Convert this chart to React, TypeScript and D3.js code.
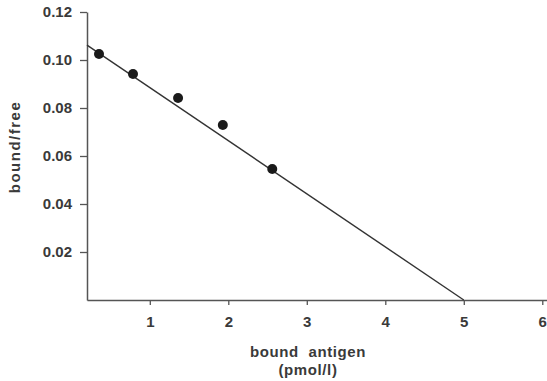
import React, { useEffect, useRef } from "react";
import * as d3 from "d3";

// measured points (bound antigen, bound/free)
const boundAntigen = [0.353, 0.786, 1.36, 1.93, 2.56];
const boundFree = [0.1025, 0.0942, 0.0842, 0.0729, 0.0546];

// fitted Scatchard line
const fitX = [0.2, 5];
const fitY = [0.1062, 0];

const xTicks = [1, 2, 3, 4, 5, 6];
const yTicks = [0.02, 0.04, 0.06, 0.08, 0.1, 0.12];

const W = 547;
const H = 381;
const FONT = "'Liberation Sans', Arial, sans-serif";

export default function App() {
  const ref = useRef<SVGSVGElement>(null);

  useEffect(() => {
    if (!ref.current) return;
    const svg = d3.select(ref.current);
    svg.selectAll("*").remove();

    const x = d3.scaleLinear().domain([0.2, 6.06]).range([87, 547]);
    const y = d3.scaleLinear().domain([0, 0.12]).range([300, 12]);

    // x axis
    const gx = svg
      .append("g")
      .attr("transform", `translate(0,${y(0)})`)
      .call(
        d3
          .axisBottom(x)
          .tickValues(xTicks)
          .tickSize(5)
          .tickPadding(11)
          .tickSizeOuter(0)
          .tickFormat(d3.format("d"))
      );

    // y axis
    const gy = svg
      .append("g")
      .attr("transform", `translate(${x(0.2)},0)`)
      .call(
        d3
          .axisLeft(y)
          .tickValues(yTicks)
          .tickSize(7)
          .tickPadding(8)
          .tickSizeOuter(0)
          .tickFormat(d3.format(".2f"))
      );

    [gx, gy].forEach((g) => {
      g.select(".domain").attr("stroke", "#555").attr("stroke-width", 1.5);
      g.selectAll(".tick line").attr("stroke", "#555").attr("stroke-width", 1.3);
      g.selectAll(".tick text")
        .attr("fill", "#3a3a3a")
        .style("font-family", FONT)
        .style("font-size", "15px")
        .style("font-weight", "bold");
    });

    // fitted line
    const line = d3
      .line<number>()
      .x((d) => x(d))
      .y((_, i) => y(fitY[i]));
    svg
      .append("path")
      .datum(fitX)
      .attr("fill", "none")
      .attr("stroke", "#333")
      .attr("stroke-width", 1.4)
      .attr("d", line);

    // points
    svg
      .append("g")
      .selectAll("circle")
      .data(boundAntigen)
      .join("circle")
      .attr("cx", (d) => x(d))
      .attr("cy", (_, i) => y(boundFree[i]))
      .attr("r", 5)
      .attr("fill", "#1a1a1a");

    // axis titles
    const title = svg
      .append("g")
      .attr("fill", "#3a3a3a")
      .style("font-family", FONT)
      .style("font-size", "15px")
      .style("font-weight", "bold")
      .attr("text-anchor", "middle");

    title
      .append("text")
      .attr("x", 308)
      .attr("y", 357)
      .style("letter-spacing", "0.6px")
      .style("word-spacing", "5px")
      .text("bound antigen");
    title
      .append("text")
      .attr("x", 308)
      .attr("y", 375)
      .style("letter-spacing", "0.6px")
      .text("(pmol/l)");
    title
      .append("text")
      .attr("transform", "translate(20,147) rotate(-90)")
      .style("letter-spacing", "1.5px")
      .text("bound/free");
  }, []);

  return (
    <svg
      ref={ref}
      width={W}
      height={H}
      style={{ position: "absolute", left: 0, top: 0, background: "#fff" }}
    />
  );
}
